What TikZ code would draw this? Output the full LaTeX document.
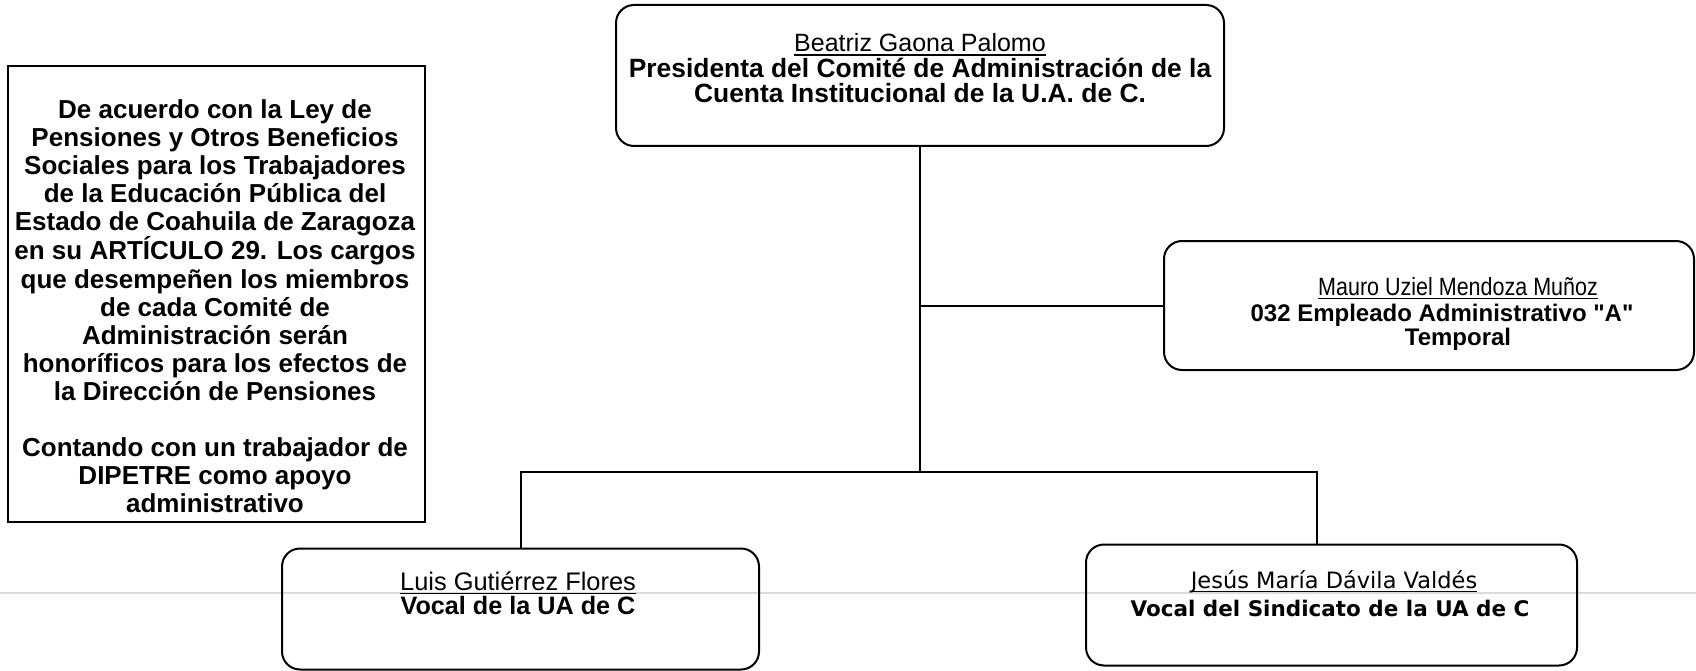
\documentclass[tikz,border=0pt]{standalone}
\usepackage{fontspec}
\setmainfont{Liberation Sans}
\newfontfamily\dejavu{DejaVu Sans}
\newfontfamily\narrowsans[FakeStretch=0.86]{Liberation Sans}
\usetikzlibrary{calc}
\newcommand\myul[1]{\setbox0\hbox{#1}\rlap{\rule[-4pt]{\wd0}{1.5pt}}\box0}
\begin{document}
\begin{tikzpicture}[x=1pt,y=-1pt,
  box/.style={draw,line width=2pt,rounded corners=18pt,inner sep=0pt},
  notebox/.style={draw,line width=2pt,inner sep=0pt},
  conn/.style={line width=2pt},
  nametxt/.style={inner sep=0pt,anchor=base,font=\fontsize{25}{27.6}\selectfont},
  roletxt/.style={inner sep=0pt,anchor=base,font=\fontsize{24}{27.6}\selectfont\bfseries},
  dvname/.style={inner sep=0pt,anchor=base,font=\fontsize{22.5}{26}\selectfont\dejavu},
  dvrole/.style={inner sep=0pt,anchor=base,font=\fontsize{21.5}{26}\selectfont\dejavu\bfseries},
  notetxt/.style={inner sep=0pt,anchor=north,align=center,font=\fontsize{26}{28.1}\selectfont\bfseries}]
\useasboundingbox[fill=white] (0,0) rectangle (1696,671);
\draw[black!14,line width=1.2pt] (0,593) -- (1696,593);

% note
\node[notebox,minimum width=417pt,minimum height=455pt] (note) at (216.5,294) {};
\node[notetxt] (notetext) at (215,99) {De acuerdo con la Ley de\\
Pensiones y Otros Beneficios\\
Sociales para los Trabajadores\\
de la Educación Pública del\\
Estado de Coahuila de Zaragoza\\
en su ARTÍCULO 29. Los cargos\\
que desempeñen los miembros\\
de cada Comité de\\
Administración serán\\
honoríficos para los efectos de\\
la Dirección de Pensiones\\[28.1pt]
Contando con un trabajador de\\
DIPETRE como apoyo\\
administrativo};

% boxes
\node[box,minimum width=608pt,minimum height=141pt] (pres) at (920,75.5) {};
\node[nametxt] (presname) at (920,52) {\myul{Beatriz Gaona Palomo}};
\node[roletxt,font=\fontsize{26.4}{28}\selectfont\bfseries] (presrole1) at (920,77.5) {Presidenta del Comité de Administración de la};
\node[roletxt,font=\fontsize{26.4}{28}\selectfont\bfseries] (presrole2) at (920,102.5) {Cuenta Institucional de la U.A. de C.};

\node[box,minimum width=530pt,minimum height=129pt] (mauro) at (1429,305.5) {};
\node[nametxt,font=\fontsize{25}{27.6}\selectfont\narrowsans] (mauroname) at (1458,295) {\myul{Mauro Uziel Mendoza Muñoz}};
\node[roletxt] (maurorole1) at (1442,321) {032 Empleado Administrativo \textquotedbl A\textquotedbl};
\node[roletxt] (maurorole2) at (1458,345) {Temporal};

\node[box,minimum width=477pt,minimum height=121pt] (luis) at (520.5,609) {};
\node[nametxt,font=\fontsize{25.4}{27.6}\selectfont] (luisname) at (518,590) {\myul{Luis Gutiérrez Flores}};
\node[roletxt,font=\fontsize{25.2}{27.6}\selectfont\bfseries] (luisrole) at (518,614) {Vocal de la UA de C};

\node[box,minimum width=491pt,minimum height=121pt] (jesus) at (1331.5,605) {};
\node[dvname] (jesusname) at (1334,588) {\myul{Jesús María Dávila Valdés}};
\node[dvrole] (jesusrole) at (1330,616) {Vocal del Sindicato de la UA de C};

% connectors
\coordinate (J) at (pres.south |- 0,472);
\coordinate (B) at (pres.south |- mauro.west);
\draw[conn] (pres.south) -- (J);
\draw[conn] (B) -- (mauro.west);
\draw[conn] (luis.north) |- (J) -| ($(jesus.north)+(-15,0)$);
\end{tikzpicture}
\end{document}
